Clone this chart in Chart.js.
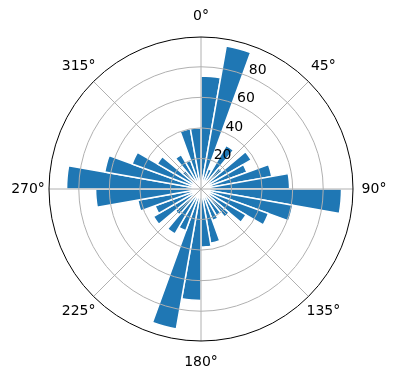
<!DOCTYPE html>
<html>
<head>
<meta charset="utf-8">
<script src="https://cdn.jsdelivr.net/npm/chart.js@4.4.1/dist/chart.umd.min.js"></script>
<style>
  html, body { margin: 0; padding: 0; background: #fff; }
</style>
</head>
<body>
<canvas id="chart" width="396" height="380"></canvas>
<script>
// direction bins, 10 degrees each, clockwise from north
const directions = ['0°', '10°', '20°', '30°', '40°', '50°', '60°', '70°', '80°',
    '90°', '100°', '110°', '120°', '130°', '140°', '150°', '160°', '170°',
    '180°', '190°', '200°', '210°', '220°', '230°', '240°', '250°', '260°',
    '270°', '280°', '290°', '300°', '310°', '320°', '330°', '340°', '350°'];
const radii = [74, 95, 14, 33, 18, 38, 32, 47, 58,
    92, 61, 47, 34, 24, 20, 22, 36, 38,
    73, 93, 29, 34, 22, 36, 32, 42, 69,
    88, 64, 48, 33, 16, 26, 20, 40, 40];
const rTicks = [20, 40, 60, 80];
const rMax = 99.5;
const thetaTicks = [0, 45, 90, 135, 180, 225, 270, 315];
const thetaLabels = ['0°', '45°', '90°', '135°', '180°', '225°', '270°', '315°'];

const deg = (a) => a * Math.PI / 180;

// grid is drawn above the bars, like matplotlib does it
const polarDecor = {
    id: 'polarDecor',
    afterDatasetsDraw(chart) {
        const scale = chart.scales.r;
        const ctx = chart.ctx;
        const outer = scale.drawingArea;
        ctx.save();
        ctx.lineWidth = 1;
        ctx.strokeStyle = '#b0b0b0';
        rTicks.forEach((v) => {
            ctx.beginPath();
            ctx.arc(scale.xCenter, scale.yCenter, scale.getDistanceFromCenterForValue(v), 0, 2 * Math.PI);
            ctx.stroke();
        });
        thetaTicks.forEach((a) => {
            const p = scale.getPointPosition(0, outer, deg(a));
            ctx.beginPath();
            ctx.moveTo(scale.xCenter, scale.yCenter);
            ctx.lineTo(p.x, p.y);
            ctx.stroke();
        });
        ctx.strokeStyle = '#000';
        ctx.beginPath();
        ctx.arc(scale.xCenter, scale.yCenter, outer, 0, 2 * Math.PI);
        ctx.stroke();

        ctx.fillStyle = '#000';
        ctx.font = '14px "DejaVu Sans"';
        ctx.textAlign = 'center';
        ctx.textBaseline = 'middle';
        thetaTicks.forEach((a, i) => {
            const p = scale.getPointPosition(0, outer + 21, deg(a));
            ctx.fillText(thetaLabels[i], p.x, p.y);
        });

        ctx.textAlign = 'left';
        ctx.textBaseline = 'alphabetic';
        rTicks.forEach((v) => {
            const p = scale.getPointPosition(0, scale.getDistanceFromCenterForValue(v), deg(22.5));
            ctx.fillText(String(v), p.x + 1, p.y - 2);
        });
        ctx.restore();
    },
};

new Chart(document.getElementById('chart'), {
    type: 'polarArea',
    data: {
        labels: directions,
        datasets: [{
            data: radii,
            backgroundColor: '#1f77b4',
            borderColor: '#ffffff',
            borderWidth: 1.5,
        }],
    },
    options: {
        responsive: false,
        animation: false,
        layout: { padding: { left: 49, right: 43, top: 37, bottom: 39 } },
        plugins: {
            legend: { display: false },
            tooltip: { enabled: false },
        },
        scales: {
            r: {
                min: 0,
                max: rMax,
                startAngle: 0,
                grid: { display: false },
                angleLines: { display: false },
                pointLabels: { display: false },
                ticks: { display: false },
            },
        },
    },
    plugins: [polarDecor],
});
</script>
</body>
</html>
